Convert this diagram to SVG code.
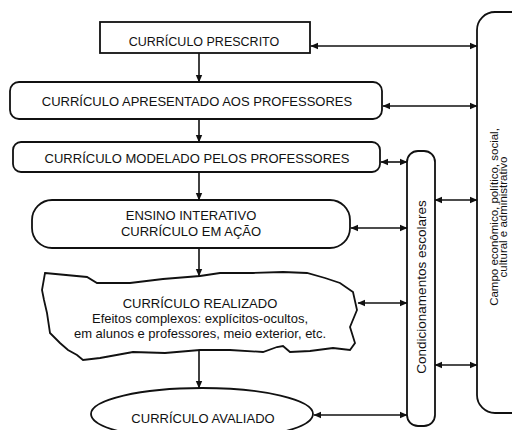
<svg xmlns="http://www.w3.org/2000/svg" width="512" height="430" viewBox="0 0 512 430">
<defs>
<style>
text{font-family:"Liberation Sans",Arial,sans-serif;fill:#111;text-anchor:middle}
.box{fill:#fff;stroke:#111;stroke-width:1.8}
.con{fill:none;stroke:#111;stroke-width:1.6}
.t{font-size:12.5px}
.s{font-size:13px}
</style>
<marker id="ah" markerWidth="8" markerHeight="8" refX="7" refY="4" orient="auto-start-reverse" markerUnits="userSpaceOnUse">
<path d="M0,0.8 L7.5,4 L0,7.2 Z" fill="#111"/>
</marker>
</defs>
<rect width="512" height="430" fill="#fff"/>

<g id="campo">
<path class="box" d="M520,12 H495 A18,18 0 0 0 477,30 V395 A18,18 0 0 0 495,413 H520"/>
<text font-size="11.5px" transform="translate(498,217) rotate(-90)">Campo econômico, político, social,</text>
<text font-size="11.5px" transform="translate(507,217) rotate(-90)">cultural e administrativo</text>
</g>

<g id="condicionamentos">
<rect class="box" x="407" y="151" width="28" height="275" rx="11"/>
<text font-size="13.5px" transform="translate(426,287) rotate(-90)">Condicionamentos escolares</text>
</g>

<g id="prescrito">
<rect class="box" x="100" y="22" width="210" height="31" stroke-width="1.6"/>
<text class="t" x="204" y="46">CURRÍCULO PRESCRITO</text>
</g>

<g id="apresentado">
<rect class="box" x="10" y="82" width="372" height="37" rx="9"/>
<text class="s" x="197" y="106">CURRÍCULO APRESENTADO AOS PROFESSORES</text>
</g>

<g id="modelado">
<rect class="box" x="13" y="142" width="367" height="30" rx="8" stroke-width="3"/>
<text class="s" x="197" y="163">CURRÍCULO MODELADO PELOS PROFESSORES</text>
</g>

<g id="ensino">
<rect class="box" x="32" y="200" width="318" height="48" rx="20"/>
<text class="s" x="191" y="220">ENSINO INTERATIVO</text>
<text class="s" x="191" y="236">CURRÍCULO EM AÇÃO</text>
</g>

<g id="realizado">
<path class="box" stroke-width="2" d="M45,273 L87,277 L97,283 L130,283 L163,279 L200,276 L220,273 L253,273 L283,272 L307,273 L325,278 L340,283 L353,292 L357,310 L350,327 L355,343 L350,350 L333,348 L310,351 L290,352 L283,346 L277,347 L263,352 L230,350 L200,350 L165,353 L133,352 L100,358 L83,360 L77,355 L68,350 L60,343 L50,333 L47,313 L44,300 L42,290 Z"/>
<text class="s" x="200" y="308">CURRÍCULO REALIZADO</text>
<text class="s" x="200" y="323">Efeitos complexos: explícitos-ocultos,</text>
<text class="s" x="200" y="338">em alunos e professores, meio exterior, etc.</text>
</g>

<g id="avaliado">
<ellipse class="box" cx="202" cy="414" rx="111" ry="26"/>
<text class="s" x="203" y="423">CURRÍCULO AVALIADO</text>
</g>

<g id="connectors">
<line class="con" x1="199" y1="53" x2="199" y2="82" marker-end="url(#ah)"/>
<line class="con" x1="199" y1="119" x2="199" y2="142" marker-end="url(#ah)"/>
<line class="con" x1="199" y1="172" x2="199" y2="200" marker-end="url(#ah)"/>
<line class="con" x1="199" y1="248" x2="199" y2="276" marker-end="url(#ah)"/>
<line class="con" x1="199" y1="350" x2="199" y2="388" marker-end="url(#ah)"/>
<line class="con" x1="311" y1="46" x2="477" y2="46" marker-start="url(#ah)" marker-end="url(#ah)"/>
<line class="con" x1="383" y1="106" x2="477" y2="106" marker-start="url(#ah)" marker-end="url(#ah)"/>
<line class="con" x1="381" y1="162" x2="407" y2="162" marker-start="url(#ah)" marker-end="url(#ah)"/>
<line class="con" x1="351" y1="228" x2="407" y2="228" marker-start="url(#ah)" marker-end="url(#ah)"/>
<line class="con" x1="358" y1="303" x2="407" y2="303" marker-start="url(#ah)" marker-end="url(#ah)"/>
<line class="con" x1="314" y1="415" x2="407" y2="415" marker-start="url(#ah)" marker-end="url(#ah)"/>
<line class="con" x1="435" y1="200" x2="477" y2="200" marker-start="url(#ah)" marker-end="url(#ah)"/>
<line class="con" x1="435" y1="365" x2="477" y2="365" marker-start="url(#ah)" marker-end="url(#ah)"/>
</g>
</svg>
